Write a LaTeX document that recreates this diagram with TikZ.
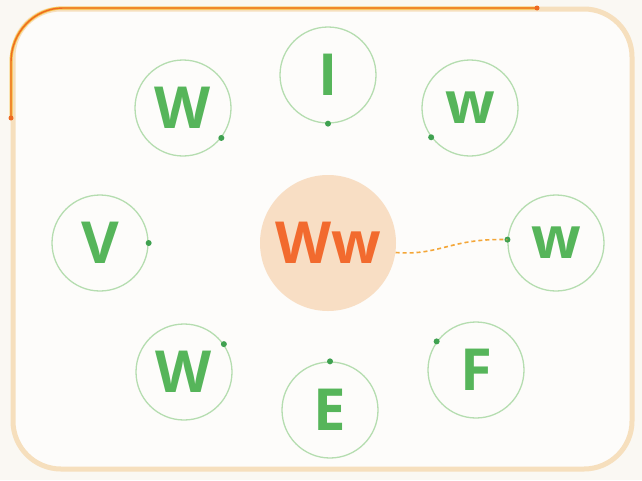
\documentclass[tikz,border=0pt]{standalone}
\usepackage{fontspec}
\setmainfont{Open Sans}
\usetikzlibrary{calc}
\definecolor{bg}{HTML}{FAF8F3}
\definecolor{frame}{HTML}{F6DFBD}
\definecolor{orangeline}{HTML}{EE6A22}
\definecolor{yellowline}{HTML}{F6C040}
\definecolor{ringgreen}{HTML}{B5DDB0}
\definecolor{lettergreen}{HTML}{56B55A}
\definecolor{dotgreen}{HTML}{3FA150}
\definecolor{centerfill}{HTML}{F8DEC4}
\definecolor{centertext}{HTML}{F26A2E}
\begin{document}
\begin{tikzpicture}[x=1pt,y=-1pt,
  sat/.style={circle,draw=ringgreen,line width=1.3pt,minimum size=96pt,inner sep=0pt,
    text=lettergreen,font=\fontsize{58}{58}\selectfont\bfseries},
  gdot/.style={circle,fill=dotgreen,inner sep=0pt,minimum size=6pt},
  hub/.style={circle,fill=centerfill,minimum size=136pt,inner sep=0pt,
    text=centertext,font=\fontsize{58}{58}\selectfont\bfseries}]
\useasboundingbox (0,0) rectangle (642,480);
\fill[bg] (0,0) rectangle (642,480);
% frame
\draw[frame,line width=5pt,fill=white!60!bg,rounded corners=48pt] (13,9) rectangle (632,469);
% orange trace along top-left
\coordinate (ls) at (11,118);
\coordinate (le) at (537,8);
\draw[yellowline,line width=3pt] (ls) -- (11,62) arc[start angle=180,end angle=270,x radius=52pt,y radius=-54pt] -- (le);
\draw[orangeline,line width=1.4pt] (ls) -- (11,62) arc[start angle=180,end angle=270,x radius=52pt,y radius=-54pt] -- (le);
\node[circle,fill=orangeline,inner sep=0pt,minimum size=5pt] at (ls) {};
\node[circle,fill=orangeline,inner sep=0pt,minimum size=5pt] at (le) {};
% hub
\node[hub] (hub) at (328,243) {Ww};
% satellites
\node[sat] (I) at (328,75) {I};
\node[sat] (W1) at (183,108) {W};
\node[sat] (w1) at (470,108) {w};
\node[sat] (V) at (100,243) {V};
\node[sat] (w2) at (556,243) {w};
\node[sat] (W2) at (184,372) {W};
\node[sat] (E) at (330,410) {E};
\node[sat] (F) at (476,370) {F};
% dots on rings
\node[gdot] at (I.-90) {};
\node[gdot] at (W1.-38) {};
\node[gdot] at (w1.-143) {};
\node[gdot] at (V.0) {};
\node[gdot] (wd) at (w2.176) {};
\node[gdot] at (W2.35) {};
\node[gdot] at (E.90) {};
\node[gdot] at (F.144) {};
% dashed link
\draw[yellowline!70!orangeline,line width=1.6pt,dash pattern=on 4pt off 3pt]
  (hub.-8) .. controls (440,256) and (450,238) .. (wd.center);
\end{tikzpicture}
\end{document}
